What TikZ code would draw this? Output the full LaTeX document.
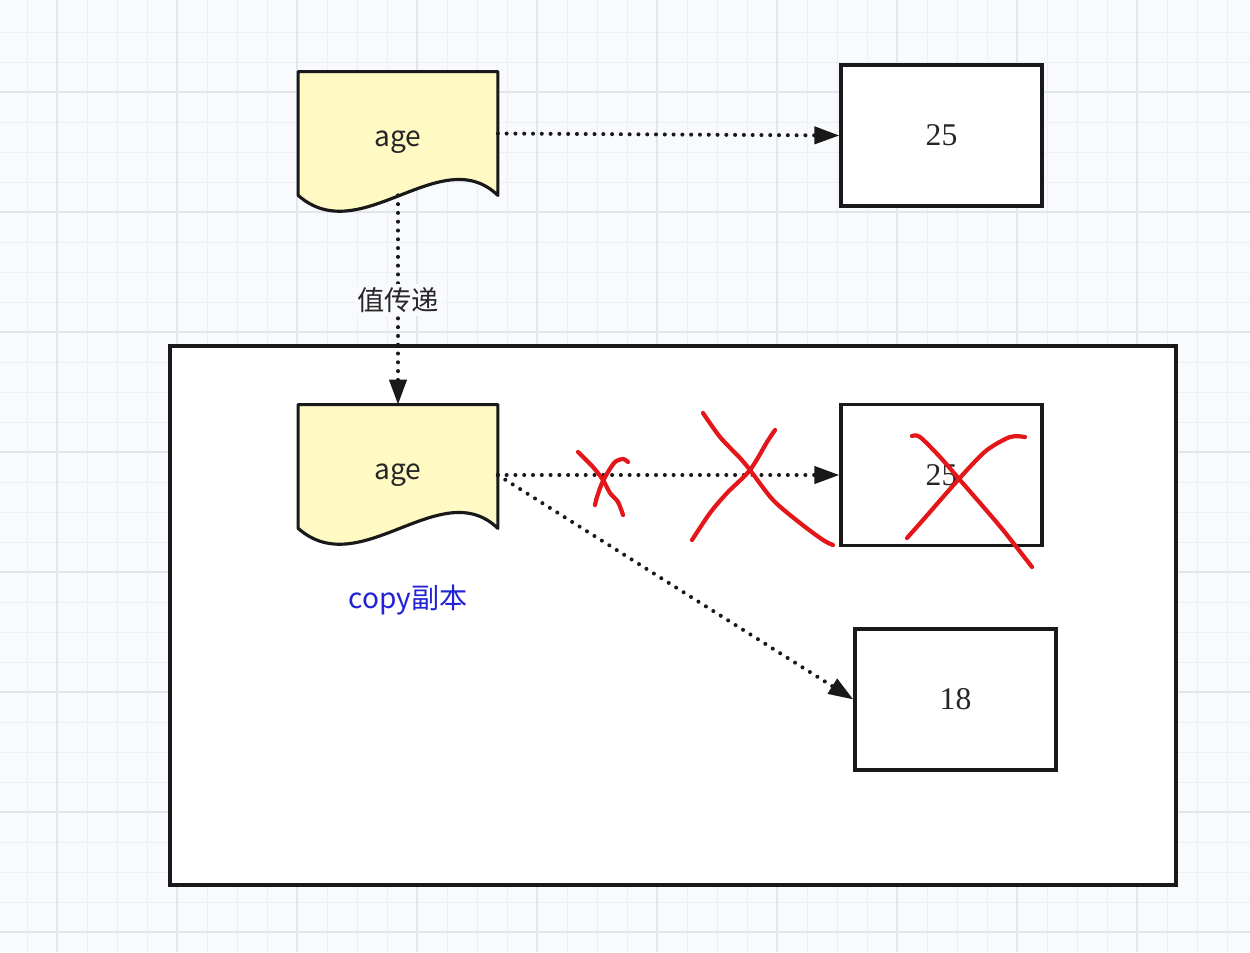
\documentclass[tikz,border=0pt]{standalone}
\usepackage{fontspec}
\newfontfamily\cjk{Noto Sans CJK SC}
\newfontfamily\numfont{Liberation Serif}
\usetikzlibrary{arrows.meta,backgrounds}

\definecolor{paper}{RGB}{248,250,253}
\definecolor{gridthin}{RGB}{236,239,243}
\definecolor{gridthick}{RGB}{226,230,235}
\definecolor{docyellow}{RGB}{255,250,196}
\definecolor{inkred}{RGB}{228,22,26}
\definecolor{copyblue}{RGB}{34,34,214}

% wavy-bottom outline round a document node
\newcommand{\docoutline}[1]{%
  \draw[docline] (#1.north west) -- (#1.north east) -- (#1.south east)
    .. controls +(-57,-55) and +(62,55) .. (#1.south west) -- cycle;}

\begin{document}
\begin{tikzpicture}[
    x=0.2mm, y=-0.2mm,
    gridminor/.style={draw=gridthin, line width=0.5pt},
    gridmajor/.style={draw=gridthick, line width=0.8pt},
    frame/.style={draw=black!90, line width=1.8pt, fill=white,
      minimum width=201.2mm, minimum height=107.8mm},
    docbox/.style={minimum width=39.8mm, minimum height=24.6mm, inner sep=0pt,
      text height=18.6pt, text depth=3.8pt,
      text=black!85, font=\cjk\fontsize{16}{19}\selectfont},
    docline/.style={draw=black!90, line width=1.8pt, fill=docyellow,
      line join=round},
    valbox/.style={draw=black!90, line width=1.8pt, fill=white,
      minimum width=40.2mm, minimum height=28.2mm, text=black!85,
      font=\numfont\fontsize{18}{21}\selectfont},
    link/.style={draw=black!90, line width=2.3pt, line cap=round,
      dash pattern=on 0pt off 5pt, -{Triangle[length=5mm,width=3.4mm]}},
    passtag/.style={fill=paper, inner sep=2pt, text=black!85,
      font=\cjk\fontsize{15.5}{18}\selectfont},
    copytag/.style={text=copyblue, font=\cjk\fontsize{16}{19}\selectfont},
    scribble/.style={draw=inkred, line width=2.4pt, line cap=round,
      line join=round},
  ]
  \useasboundingbox (0,0) rectangle (1250,952);

  % variables and values
  \node[docbox] (age) at (398,133.5) {age};
  \node[valbox] (orig) at (941.5,135.5) {25};
  \node[docbox] (agecopy) at (398,466.5) {age};
  \node[valbox] (stale) at (941.5,475) {25};
  \node[valbox] (fresh) at (955.5,699.5) {18};
  \node[copytag] (copynote) at (408,600) {copy副本};

  % paper, grid, method frame and document outlines
  \begin{scope}[on background layer]
    \fill[paper] (0,0) rectangle (1250,952);
    \foreach \gx in {27,57,...,1250} \draw[gridminor] (\gx,0) -- (\gx,952);
    \foreach \gy in {32,62,...,952} \draw[gridminor] (0,\gy) -- (1250,\gy);
    \foreach \gx in {57,177,...,1250} \draw[gridmajor] (\gx,0) -- (\gx,952);
    \foreach \gy in {92,212,...,952} \draw[gridmajor] (0,\gy) -- (1250,\gy);
    \node[frame] (method) at (673,615.5) {};
    \docoutline{age}
    \docoutline{agecopy}
  \end{scope}

  % references
  \draw[link] (age.east) -- (orig.west);
  \draw[link] (age.south) -- node[passtag] (passlabel) {值传递} (agecopy.north);
  \draw[link] (agecopy.east |- stale.west) -- (stale.west);
  \draw[link] (agecopy.east |- stale.west) -- (fresh.west);

  % crossed out
  \draw[scribble] plot[smooth] coordinates {(578,452) (593,467) (603,480)
    (610,493) (618,502) (623,515)};
  \draw[scribble] plot[smooth] coordinates {(628,462) (623,459) (615,462)
    (608,472) (602,483) (597,497) (595,505)};
  \draw[scribble] plot[smooth] coordinates {(703,413) (720,437) (740,458)
    (750,470) (773,500) (800,523) (823,540) (833,545)};
  \draw[scribble] plot[smooth] coordinates {(775,430) (767,442)
    (750,470) (727,493) (710,513) (692,540)};
  \draw[scribble] plot[smooth] coordinates {(912,436) (920,437) (940,457)
    (960,480) (980,503) (1003,530) (1032,567)};
  \draw[scribble] plot[smooth] coordinates {(1025,437) (1010,437) (987,450)
    (967,470) (943,497) (923,520) (907,538)};
\end{tikzpicture}
\end{document}
